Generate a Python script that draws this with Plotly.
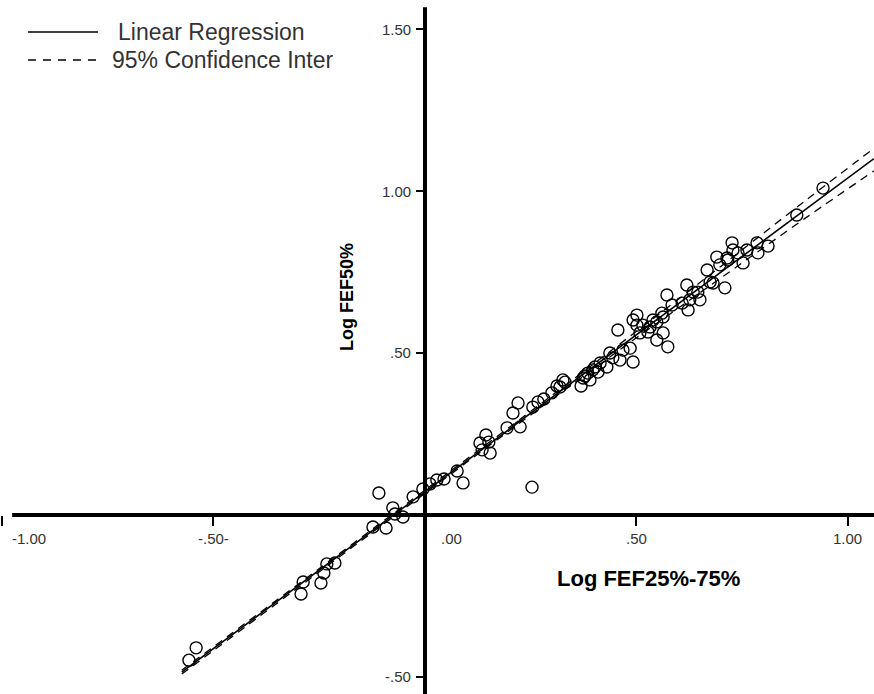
import plotly.graph_objects as go

# ---------------- data ----------------
log_fef2575 = [-0.558, -0.541, -0.293, -0.288, -0.246, -0.239, -0.232, -0.213,
               -0.109, -0.123, -0.092, -0.076, -0.071, -0.052, -0.028, -0.005,
               0.012, 0.028, 0.045, 0.076, 0.090, 0.253, 0.130, 0.144, 0.151,
               0.154, 0.135, 0.194, 0.208, 0.220, 0.225, 0.255, 0.267, 0.281,
               0.300, 0.312, 0.319, 0.326, 0.331, 0.374, 0.369, 0.385, 0.397,
               0.402, 0.414, 0.430, 0.437, 0.444, 0.461, 0.468, 0.485, 0.492,
               0.456, 0.492, 0.501, 0.515, 0.527, 0.548, 0.548, 0.560, 0.574,
               0.563, 0.508, 0.501, 0.539, 0.563, 0.572, 0.584, 0.608, 0.622,
               0.619, 0.634, 0.645, 0.667, 0.674, 0.681, 0.709, 0.690, 0.697,
               0.716, 0.726, 0.740, 0.761, 0.785, 0.752, 0.728, 0.787, 0.811,
               0.714, 0.879, 0.941, 0.378, 0.390, 0.409, 0.626, 0.650, 0.532]
log_fef50 = [-0.448, -0.410, -0.244, -0.207, -0.210, -0.179, -0.151, -0.148,
             0.068, -0.037, -0.040, 0.022, 0.003, -0.006, 0.056, 0.080,
             0.096, 0.108, 0.111, 0.136, 0.099, 0.086, 0.222, 0.247, 0.225,
             0.191, 0.201, 0.269, 0.315, 0.346, 0.272, 0.333, 0.349, 0.358,
             0.377, 0.398, 0.395, 0.417, 0.410, 0.423, 0.398, 0.438, 0.448,
             0.457, 0.469, 0.457, 0.500, 0.485, 0.478, 0.509, 0.515, 0.472,
             0.571, 0.602, 0.617, 0.586, 0.565, 0.540, 0.596, 0.623, 0.519,
             0.562, 0.562, 0.586, 0.602, 0.611, 0.679, 0.648, 0.654, 0.633,
             0.710, 0.688, 0.688, 0.756, 0.719, 0.716, 0.701, 0.796, 0.772,
             0.787, 0.840, 0.809, 0.818, 0.840, 0.778, 0.818, 0.809, 0.830,
             0.793, 0.926, 1.009, 0.429, 0.417, 0.441, 0.664, 0.664, 0.580]

fit_x = [-0.575, 1.0615]
fit_y = [-0.485, 1.100]

ci_x = [-0.575, -0.3, 0.0, 0.3, 0.5, 0.7, 0.9, 1.0615]
ci_upper = [-0.479, -0.214, 0.077, 0.369, 0.567, 0.768, 0.971, 1.132]
ci_lower = [-0.491, -0.224, 0.067, 0.357, 0.547, 0.732, 0.917, 1.062]

x_tick_vals = [-1.0, -0.5, 0.0, 0.5, 1.0]
x_tick_text = ["-1.00", "-.50-", ".00", ".50", "1.00"]
y_tick_vals = [1.5, 1.0, 0.5, -0.5]
y_tick_text = ["1.50", "1.00", ".50", "-.50"]

legend_labels = ["Linear Regression", "95% Confidence Inter"]

# ---------------- figure ----------------
W, H = 874, 694
X_RANGE = [-1.0047, 1.0615]
Y_RANGE = [-0.5525, 1.5895]
FONT = "Liberation Sans, Arial, sans-serif"
DASH = "8px,6px"

fig = go.Figure()

fig.add_trace(go.Scatter(x=ci_x, y=ci_upper, mode="lines", line_shape="spline",
                         line=dict(color="black", width=1.3, dash=DASH),
                         showlegend=False, hoverinfo="skip"))
fig.add_trace(go.Scatter(x=ci_x, y=ci_lower, mode="lines", line_shape="spline",
                         line=dict(color="black", width=1.3, dash=DASH),
                         showlegend=False, hoverinfo="skip"))
fig.add_trace(go.Scatter(x=fit_x, y=fit_y, mode="lines",
                         line=dict(color="black", width=1.6),
                         showlegend=False))
fig.add_trace(go.Scatter(x=log_fef2575, y=log_fef50, mode="markers",
                         marker=dict(symbol="circle-open", size=12, color="black",
                                     line=dict(width=1.4, color="black")),
                         showlegend=False))

x_pos = (0 - Y_RANGE[0]) / (Y_RANGE[1] - Y_RANGE[0])
y_pos = (0 - X_RANGE[0]) / (X_RANGE[1] - X_RANGE[0])

fig.update_layout(
    width=W, height=H,
    margin=dict(l=0, r=0, t=0, b=0),
    paper_bgcolor="white", plot_bgcolor="white",
    font=dict(family=FONT, color="#333333"),
    xaxis=dict(range=X_RANGE, anchor="free", position=x_pos, showgrid=False,
               zeroline=False, showline=False, tickvals=[v for v in x_tick_vals if v != 0],
               ticks="outside", ticklen=10, tickwidth=2, tickcolor="black",
               showticklabels=False),
    yaxis=dict(range=Y_RANGE, anchor="free", position=y_pos, showgrid=False,
               zeroline=False, showline=False, tickvals=y_tick_vals,
               ticks="outside", ticklen=9, tickwidth=2, tickcolor="black",
               showticklabels=False),
)

# main axes lines crossing at origin
fig.add_shape(type="line", xref="x", yref="y", x0=0, x1=0, y0=Y_RANGE[0], y1=1.567,
              line=dict(color="black", width=4))
fig.add_shape(type="line", xref="x", yref="y", x0=-0.976, x1=X_RANGE[1], y0=0, y1=0,
              line=dict(color="black", width=4))

# tick labels
x_anchor = {"-1.00": ("left", 8), ".00": ("left", 14)}
for v, t in zip(x_tick_vals, x_tick_text):
    anc, sh = x_anchor.get(t, ("center", 0))
    fig.add_annotation(x=v, y=0, xref="x", yref="y", text=t, showarrow=False,
                       xanchor=anc, yanchor="top", xshift=sh, yshift=-13,
                       font=dict(size=15, color="#333333", family=FONT))
for v, t in zip(y_tick_vals, y_tick_text):
    fig.add_annotation(x=0, y=v, xref="x", yref="y", text=t, showarrow=False,
                       xanchor="right", yanchor="middle", xshift=-12,
                       font=dict(size=15, color="#333333", family=FONT))

# axis titles
fig.add_annotation(x=347 / W, y=1 - 297 / H, xref="paper", yref="paper",
                   xanchor="center", yanchor="middle",
                   text="<b>Log FEF50%</b>", textangle=-90, showarrow=False,
                   font=dict(size=18, color="black", family=FONT))
fig.add_annotation(x=648 / W, y=1 - 578 / H, xref="paper", yref="paper",
                   xanchor="center", yanchor="middle",
                   text="<b>Log FEF25%-75%</b>", showarrow=False,
                   font=dict(size=22, color="black", family=FONT))

# legend (drawn manually)
for i, (lab, dash) in enumerate(zip(legend_labels, ["solid", "8px,7px"])):
    yy = 1 - (32 + 28 * i) / H
    fig.add_shape(type="line", xref="paper", yref="paper", x0=28 / W, x1=98 / W,
                  y0=yy, y1=yy, line=dict(color="black", width=1.5, dash=dash))
    fig.add_annotation(x=(116 - 6 * i) / W, y=yy, xref="paper", yref="paper",
                       text=lab, showarrow=False, xanchor="left", yanchor="middle",
                       font=dict(size=23, color="#333333", family=FONT))

fig.write_html("out.html", config={"displayModeBar": False},
               post_script="document.body.style.margin='0px';document.body.style.overflow='hidden';")
